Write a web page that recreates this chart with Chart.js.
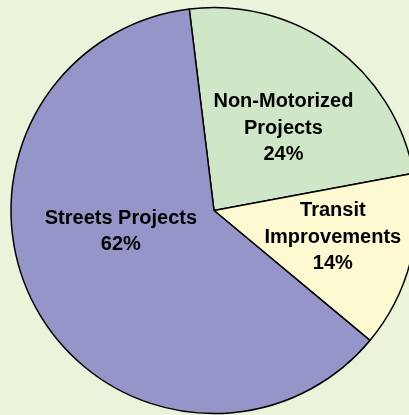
<!DOCTYPE html>
<html>
<head>
<meta charset="utf-8">
<script src="https://cdn.jsdelivr.net/npm/chart.js@4.4.1/dist/chart.umd.min.js"></script>
<style>
  html, body { margin: 0; padding: 0; overflow: hidden; background: #ebf3da; }
  #wrap { position: absolute; left: 0; top: 0; width: 428px; height: 421px; }
</style>
</head>
<body>
<div id="wrap"><canvas id="myChart"></canvas></div>
<script>
var categories = ["Non-Motorized Projects", "Transit Improvements", "Streets Projects"];
var labelLines = [["Non-Motorized", "Projects"], ["Transit", "Improvements"], ["Streets Projects"]];
var shares = [24, 14, 62];
var sliceColors = ["#d0e7c7", "#fdf9d0", "#9595c9"];

// where each label sits inside its slice: fraction of radius, angle shift in degrees
var labelPlace = [[0.53, 4], [0.6, -2], [0.47, 16]];

const sliceLabels = {
  id: "sliceLabels",
  afterDatasetsDraw(chart) {
    const ctx = chart.ctx;
    const meta = chart.getDatasetMeta(0);
    ctx.save();
    ctx.font = "bold 20px 'Liberation Sans', Arial, sans-serif";
    ctx.fillStyle = "#000";
    ctx.textAlign = "center";
    ctx.textBaseline = "middle";
    meta.data.forEach((arc, i) => {
      const p = arc.getProps(["x", "y", "startAngle", "endAngle", "outerRadius"], true);
      const mid = (p.startAngle + p.endAngle) / 2 + labelPlace[i][1] * Math.PI / 180;
      const r = p.outerRadius * labelPlace[i][0];
      const cx = p.x + Math.cos(mid) * r;
      const cy = p.y + Math.sin(mid) * r;
      const lines = labelLines[i].concat([shares[i] + "%"]);
      const lh = 26.5;
      lines.forEach((t, k) => {
        ctx.fillText(t, cx, cy + (k - (lines.length - 1) / 2) * lh);
      });
    });
    ctx.restore();
  }
};

new Chart(document.getElementById("myChart"), {
  type: "pie",
  data: {
    labels: categories,
    datasets: [
      {
        data: shares,
        backgroundColor: sliceColors,
        borderColor: "#000",
        borderWidth: 1.5
      }
    ]
  },
  options: {
    responsive: true,
    maintainAspectRatio: false,
    animation: false,
    rotation: -7,
    radius: 203,
    layout: { padding: 0 },
    plugins: {
      legend: { display: false },
      tooltip: { enabled: false }
    }
  },
  plugins: [sliceLabels]
});
</script>
</body>
</html>
